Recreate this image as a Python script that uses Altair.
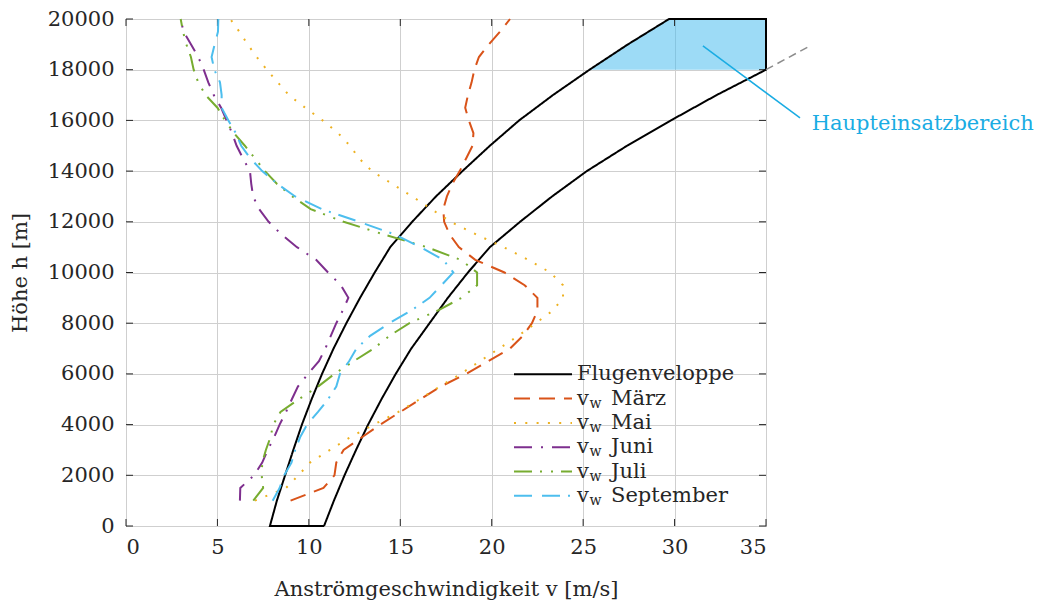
import altair as alt
import pandas as pd

# ---------------- data ----------------
SERIES = ["Flugenveloppe", "März", "Mai", "Juni", "Juli", "September"]
COLORS = ["#000000", "#D95319", "#EDB120", "#7E2F8E", "#77AC30", "#4DBEEE"]

H = [1000, 1500, 2000, 2500, 3000, 3500, 4000, 4500, 5000, 5500, 6000, 6500,
     7000, 7500, 8000, 8500, 9000, 9500, 10000, 10500, 11000, 11500, 12000,
     12500, 13000, 13500, 14000, 14500, 15000, 15500, 16000, 16500, 17000,
     17500, 18000, 18500, 19000, 19500, 20000]

MAERZ = [9.0, 10.8, 11.4, 11.5, 11.9, 12.9, 13.9, 15.0, 16.1, 17.2, 18.6, 19.8,
         21.0, 21.7, 22.2, 22.5, 22.5, 21.8, 20.7, 19.1, 18.2, 17.7, 17.4,
         17.35, 17.55, 17.85, 18.25, 18.6, 18.95, 19.0, 18.75, 18.55, 18.7,
         18.9, 19.05, 19.3, 19.85, 20.45, 21.0]
MAI = [7.05, 8.75, 9.43, 10.06, 11.15, 12.25, 13.55, 14.9, 16.05, 17.15, 18.3,
       19.35, 20.4, 21.45, 22.4, 23.35, 23.9, 23.9, 23.2, 22.0, 20.65, 19.15,
       17.75, 16.7, 15.65, 14.55, 13.45, 12.75, 12.25, 11.6, 10.75, 9.8, 8.9,
       8.3, 7.7, 7.15, 6.65, 6.2, 5.7]
JUNI = [6.23, 6.25, 7.0, 7.45, 7.75, 8.1, 8.4, 8.75, 9.07, 9.4, 9.95, 10.55,
        10.9, 11.2, 11.5, 11.85, 12.16, 11.75, 11.05, 10.4, 9.35, 8.5, 7.8,
        7.28, 6.95, 6.85, 6.78, 6.4, 6.05, 5.8, 5.5, 5.2, 4.8, 4.5, 4.25, 3.95,
        3.55, 3.15, 2.98]
JULI = [6.96, 7.5, 7.42, 7.45, 7.65, 7.9, 8.05, 8.45, 9.45, 10.5, 11.4, 12.45,
        13.55, 14.4, 15.5, 17.05, 18.35, 19.2, 19.2, 18.3, 16.45, 14.1, 11.9,
        10.1, 9.1, 8.25, 7.6, 7.05, 6.5, 5.9, 5.42, 5.0, 4.35, 3.95, 3.7, 3.55,
        3.3, 3.12, 2.99]
SEPT = [8.02, 8.4, 8.65, 9.05, 9.25, 9.52, 9.9, 10.5, 11.05, 11.5, 11.7, 12.2,
        12.6, 13.35, 14.4, 15.6, 16.6, 17.25, 17.9, 17.35, 16.1, 14.7, 12.75,
        10.7, 9.25, 8.27, 7.45, 6.8, 6.3, 6.0, 5.6, 5.23, 5.23, 5.14, 4.83,
        4.68, 4.85, 5.03, 5.05]

# flight envelope (closed outline)
ENV_H = [0, 0, 1000, 2000, 3000, 4000, 5000, 6000, 7000, 8000, 9000, 10000,
         11000, 12000, 13000, 14000, 15000, 16000, 17000, 18000, 19000, 20000,
         20000, 18000, 17000, 16000, 15000, 14000, 13000, 12000, 11000, 10000,
         9000, 8000, 7000, 6000, 5000, 4000, 3000, 2000, 1000, 0]
ENV_V = [10.83, 7.87, 8.25, 8.7, 9.15, 9.62, 10.15, 10.72, 11.35, 12.05, 12.8,
         13.6, 14.45, 15.65, 16.95, 18.4, 19.9, 21.5, 23.35, 25.35, 27.45, 29.7,
         35.0, 35.0, 32.3, 29.8, 27.4, 25.2, 23.3, 21.55, 19.9, 18.7, 17.6,
         16.6, 15.6, 14.75, 13.97, 13.24, 12.58, 11.95, 11.37, 10.83]

# continuation of envelope outside the axes (dashed grey)
EXT_H = [18000, 18900]
EXT_V = [35.0, 37.3]

# main operating region (filled)
FILL_H = [18000, 18500, 19000, 19500, 20000]
FILL_V = [25.35, 26.4, 27.45, 28.55, 29.7]
FILL_MAX = [35.0, 35.0, 35.0, 35.0, 35.0]

# annotation
ANN_H = [18936, 16096]
ANN_V = [31.55, 36.86]
ANN_TEXT = "Haupteinsatzbereich"
ANN_TEXT_V = 37.5
ANN_TEXT_H = 15860

X_TICKS = [0, 5, 10, 15, 20, 25, 30, 35]
Y_TICKS = [0, 2000, 4000, 6000, 8000, 10000, 12000, 14000, 16000, 18000, 20000]

# ---------------- build tables ----------------
rows = []
for i, (h, v) in enumerate(zip(ENV_H, ENV_V)):
    rows.append({"serie": "Flugenveloppe", "h": h, "v": v, "i": i})
for name, vals in [("März", MAERZ), ("Mai", MAI), ("Juni", JUNI),
                   ("Juli", JULI), ("September", SEPT)]:
    for i, (h, v) in enumerate(zip(H, vals)):
        rows.append({"serie": name, "h": h, "v": v, "i": i})
df = pd.DataFrame(rows)

FONT = "DejaVu Serif"
FS = 21
INK = "#262626"

xscale = alt.Scale(domain=[0, 35], nice=False, zero=False)
yscale = alt.Scale(domain=[0, 20000], nice=False, zero=False)

DASHES = [[1, 0], [16, 9], [2, 9.3], [18, 9, 2, 9], [18, 8, 2, 9, 2, 8],
          [18, 10, 18, 8, 2, 8]]
color_scale = alt.Scale(domain=SERIES, range=COLORS)
dash_scale = alt.Scale(domain=SERIES, range=DASHES)

fill = alt.Chart(pd.DataFrame({"h": FILL_H, "v": FILL_V, "vmax": FILL_MAX})).mark_area(
    orient="horizontal", color="#4DBEEE", opacity=0.55
).encode(
    y=alt.Y("h:Q", scale=yscale,
            axis=alt.Axis(values=Y_TICKS, format="d", title="Höhe h [m]",
                          grid=True, ticks=False, domain=False)),
    x=alt.X("v:Q", scale=xscale,
            axis=alt.Axis(values=X_TICKS, title="Anströmgeschwindigkeit v [m/s]",
                          grid=True, ticks=False, domain=False)),
    x2="vmax:Q",
)

lines = alt.Chart(df).mark_line(strokeWidth=2, clip=False).encode(
    x=alt.X("v:Q", scale=xscale),
    y=alt.Y("h:Q", scale=yscale),
    order="i:Q",
    color=alt.Color("serie:N", scale=color_scale, legend=None),
    strokeDash=alt.StrokeDash("serie:N", scale=dash_scale, legend=None),
)

ext = alt.Chart(pd.DataFrame({"h": EXT_H, "v": EXT_V})).mark_line(
    color="#8c8c8c", strokeWidth=1.5, strokeDash=[8, 5], clip=False
).encode(x=alt.X("v:Q", scale=xscale), y=alt.Y("h:Q", scale=yscale))

ann = alt.Chart(pd.DataFrame({"h": ANN_H, "v": ANN_V})).mark_line(
    color="#1AACE3", strokeWidth=1.5, clip=False
).encode(x=alt.X("v:Q", scale=xscale), y=alt.Y("h:Q", scale=yscale))

ann_text = alt.Chart(pd.DataFrame({"h": [ANN_TEXT_H], "v": [ANN_TEXT_V],
                                   "t": [ANN_TEXT]})).mark_text(
    align="left", baseline="middle", font=FONT, fontSize=FS, color="#1AACE3"
).encode(x=alt.X("v:Q", scale=xscale), y=alt.Y("h:Q", scale=yscale), text="t:N")

# inward tick marks on all four sides
yt = pd.DataFrame({"h": Y_TICKS})
xt = pd.DataFrame({"v": X_TICKS})
TL = 7
tick_l = alt.Chart(yt).mark_rule(color=INK, strokeWidth=1).encode(
    y=alt.Y("h:Q", scale=yscale), x=alt.value(0), x2=alt.value(TL))
tick_r = alt.Chart(yt).mark_rule(color=INK, strokeWidth=1).encode(
    y=alt.Y("h:Q", scale=yscale), x=alt.value(640 - TL), x2=alt.value(640))
tick_b = alt.Chart(xt).mark_rule(color=INK, strokeWidth=1).encode(
    x=alt.X("v:Q", scale=xscale), y=alt.value(507), y2=alt.value(507 - TL))
tick_t = alt.Chart(xt).mark_rule(color=INK, strokeWidth=1).encode(
    x=alt.X("v:Q", scale=xscale), y=alt.value(0), y2=alt.value(TL))

# ---------------- legend (inside the plot, lower right) ----------------
LEG_X0, LEG_X1, LEG_TX = 388, 446, 451   # symbol start/end, label start (px)
LEG_Y0, LEG_DY = 355.3, 24.3             # first row centre, row step (px)
leg = pd.DataFrame({"serie": SERIES, "k": list(range(len(SERIES)))})
leg["ly"] = LEG_Y0 + leg["k"] * LEG_DY
leg["wy"] = leg["ly"] + 5
leg["name"] = SERIES
leg_sub = leg[leg["serie"] != "Flugenveloppe"].copy()
leg_sub["v"] = "v"
leg_sub["w"] = "w"
leg_env = leg[leg["serie"] == "Flugenveloppe"]

leg_sym = alt.Chart(leg).mark_rule(strokeWidth=2).encode(
    x=alt.value(LEG_X0), x2=alt.value(LEG_X1),
    y=alt.Y("ly:Q", scale=None),
    color=alt.Color("serie:N", scale=color_scale, legend=None),
    strokeDash=alt.StrokeDash("serie:N", scale=dash_scale, legend=None),
)
txt = dict(align="left", baseline="middle", font=FONT, color=INK)
leg_env_txt = alt.Chart(leg_env).mark_text(fontSize=FS, **txt).encode(
    x=alt.value(LEG_TX), y=alt.Y("ly:Q", scale=None), text="name:N")
leg_v = alt.Chart(leg_sub).mark_text(fontSize=FS, **txt).encode(
    x=alt.value(LEG_TX), y=alt.Y("ly:Q", scale=None), text="v:N")
leg_w = alt.Chart(leg_sub).mark_text(fontSize=14, **txt).encode(
    x=alt.value(LEG_TX + 12.5), y=alt.Y("wy:Q", scale=None), text="w:N")
leg_name = alt.Chart(leg_sub).mark_text(fontSize=FS, **txt).encode(
    x=alt.value(LEG_TX + 34), y=alt.Y("ly:Q", scale=None), text="name:N")

chart = alt.layer(fill, tick_l, tick_r, tick_b, tick_t, lines, ext, ann,
                  ann_text, leg_sym, leg_env_txt, leg_v, leg_w, leg_name).properties(
    width=640, height=507,
    padding={"left": 126, "top": 19, "right": 292, "bottom": 81},
    autosize="none",
).configure_view(stroke=INK, strokeWidth=1).configure_axis(
    labelFont=FONT, labelFontSize=FS, labelColor=INK,
    titleFont=FONT, titleFontSize=FS, titleColor=INK, titleFontWeight="normal",
    gridColor="#cfcfcf", gridWidth=1, gridOpacity=1,
).configure_axisY(labelPadding=12, titlePadding=17).configure_axisX(
    labelPadding=10, titlePadding=21)

chart.save("out.html", embed_options={"renderer": "svg", "actions": False})
